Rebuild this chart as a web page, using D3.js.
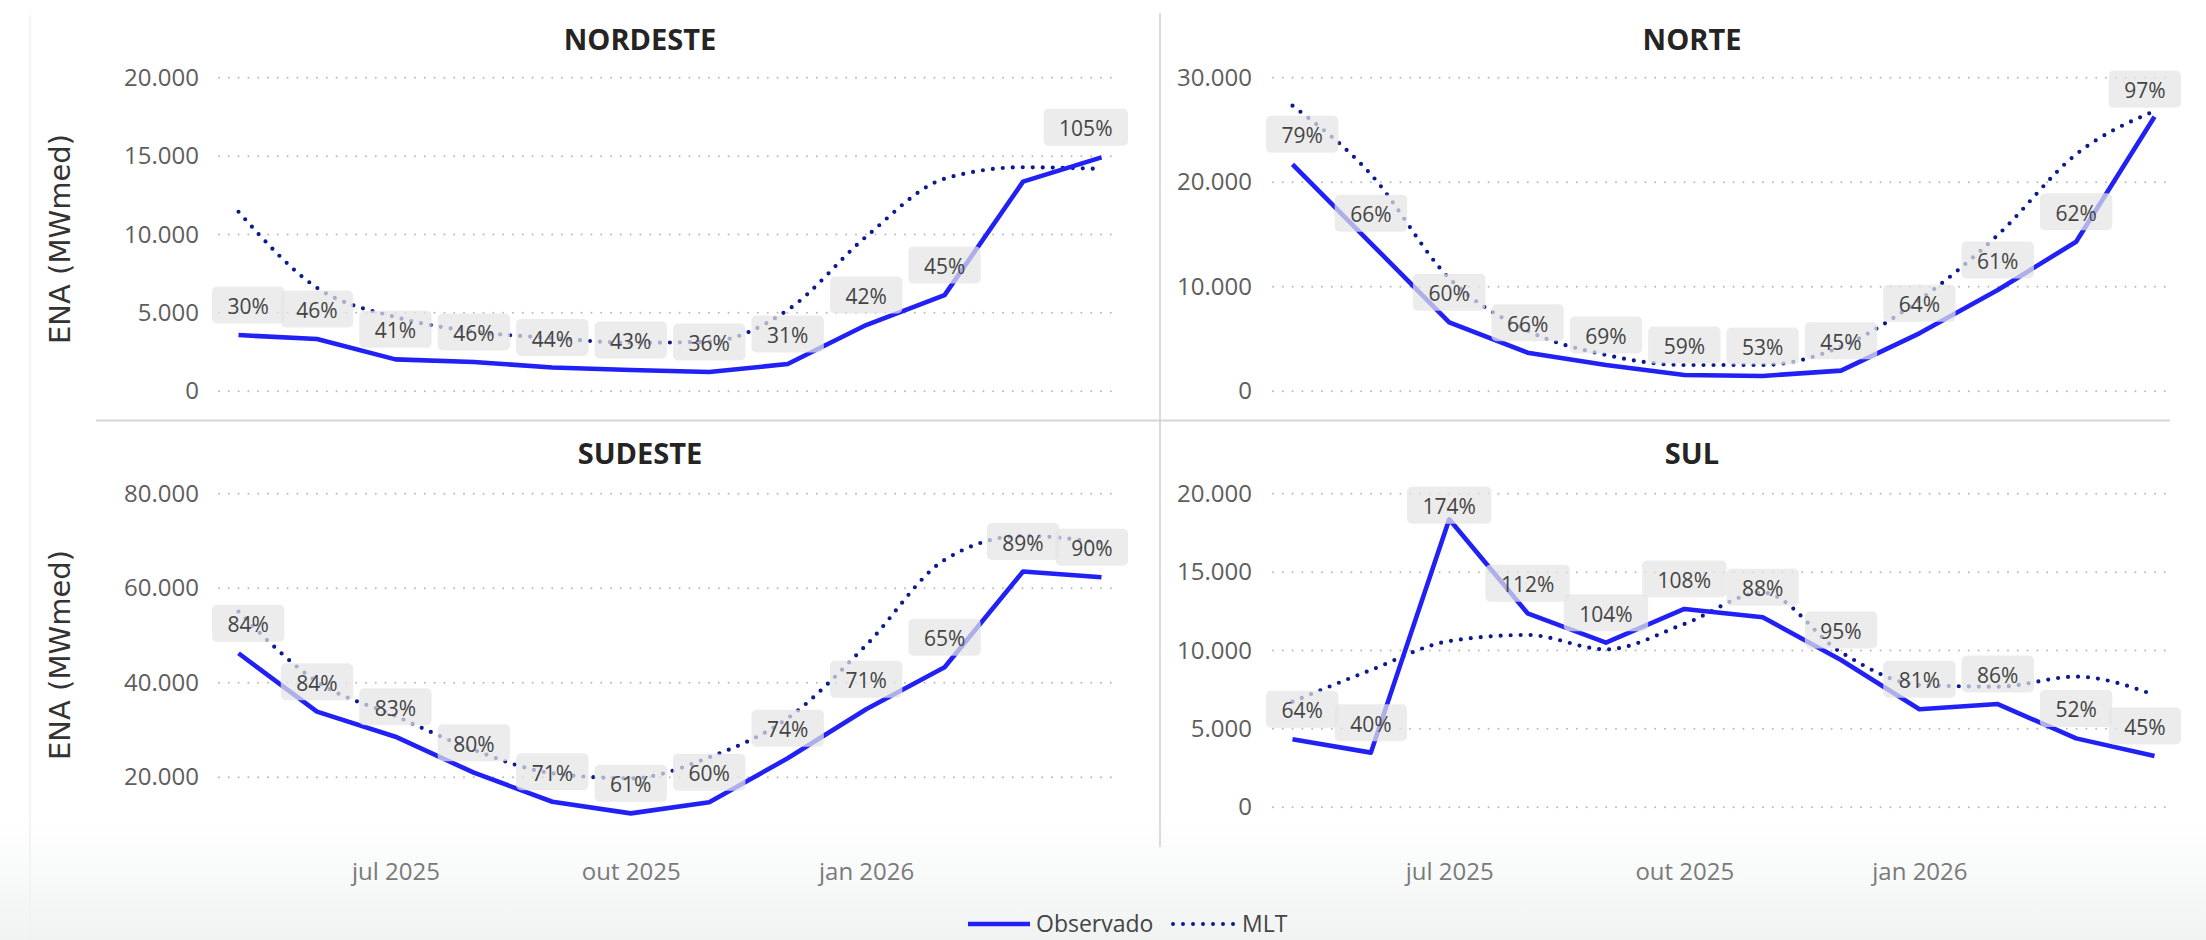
<!DOCTYPE html>
<html><head><meta charset="utf-8">
<script src="https://cdn.jsdelivr.net/npm/d3@7"></script>
<style>body{margin:0;background:#fff;} svg{display:block;}</style>
</head><body>
<svg id="c" width="2206" height="940"></svg>
<script>
// ---------- DATA ----------
const months = ["mai 2025","jun 2025","jul 2025","ago 2025","set 2025","out 2025","nov 2025","dez 2025","jan 2026","fev 2026","mar 2026","abr 2026"];
const xTickLabels = ["jul 2025","out 2025","jan 2026"];

const nordesteObs = [3550, 3300, 2000, 1830, 1480, 1320, 1190, 1700, 4190, 6100, 13340, 14890];
const nordesteMlt = [11420, 6570, 4700, 3770, 3360, 3060, 3130, 5150, 9830, 13530, 14260, 14150];
const nordestePct = [30, 46, 41, 46, 44, 43, 36, 31, 42, 45, null, 105];
const nordesteTicks = [0, 5000, 10000, 15000, 20000];

const norteObs = [21670, 14110, 6550, 3640, 2460, 1500, 1410, 1920, 5490, 9640, 14260, 26230];
const norteMlt = [27280, 20710, 10760, 5740, 3420, 2460, 2460, 4210, 8680, 14900, 22630, 26770];
const nortePct = [79, 66, 60, 66, 69, 59, 53, 45, 64, 61, 62, 97];
const norteTicks = [0, 10000, 20000, 30000];

const sudesteObs = [46140, 33770, 28470, 20850, 14700, 12240, 14580, 23900, 34280, 43180, 63430, 62240];
const sudesteMlt = [54960, 40130, 32860, 25660, 20720, 19660, 24110, 32370, 47840, 65910, 70990, 69570];
const sudestePct = [84, 84, 83, 80, 71, 61, 60, 74, 71, 65, 89, 90];
const sudesteTicks = [20000, 40000, 60000, 80000];

const sulObs = [4300, 3450, 18340, 12340, 10470, 12620, 12090, 9360, 6220, 6550, 4360, 3240];
const sulMlt = [6700, 8720, 10570, 10960, 10040, 11660, 13660, 9850, 7770, 7660, 8300, 7130];
const sulPct = [64, 40, 174, 112, 104, 108, 88, 95, 81, 86, 52, 45];
const sulTicks = [0, 5000, 10000, 15000, 20000];

const seriesNames = ["Observado", "MLT"];
const yTitle = "ENA (MWmed)";

// ---------- STYLE / LAYOUT ----------
const OBS_COLOR = "#2121f5";
const MLT_COLOR = "#0c1a8f";
const FONT = "'Segoe UI','Open Sans',sans-serif";

const cols = [
  {x0: 212, x1: 1128, gx0: 219, gx1: 1116, titleX: 640, tickX: 199},
  {x0: 1266, x1: 2181, gx0: 1273, gx1: 2169, titleX: 1692, tickX: 1252}
];
const rows = [
  {top: 77.3, bottom: 390.7, titleY: 38, showX: false},
  {top: 493.3, bottom: 806.7, titleY: 452, showX: true}
];

const panels = [
  {title: "NORDESTE", obs: nordesteObs, mlt: nordesteMlt, pct: nordestePct, ticks: nordesteTicks, domain: [0, 20000], col: 0, row: 0},
  {title: "NORTE", obs: norteObs, mlt: norteMlt, pct: nortePct, ticks: norteTicks, domain: [0, 30000], col: 1, row: 0},
  {title: "SUDESTE", obs: sudesteObs, mlt: sudesteMlt, pct: sudestePct, ticks: sudesteTicks, domain: [13650, 80000], col: 0, row: 1},
  {title: "SUL", obs: sulObs, mlt: sulMlt, pct: sulPct, ticks: sulTicks, domain: [0, 20000], col: 1, row: 1}
];

const locale = d3.formatLocale({decimal: ",", thousands: ".", grouping: [3], currency: ["R$", ""]});
const fmt = locale.format(",d");

const svg = d3.select("#c");

// background
const defs = svg.append("defs");
const grad = defs.append("linearGradient").attr("id", "bg").attr("x1", 0).attr("y1", 0).attr("x2", 0).attr("y2", 1);
grad.append("stop").attr("offset", "0").attr("stop-color", "#ffffff");
grad.append("stop").attr("offset", "1").attr("stop-color", "#f1f3f3");
svg.append("rect").attr("width", 2206).attr("height", 940).attr("fill", "#fff");
svg.append("rect").attr("x", 0).attr("y", 820).attr("width", 2206).attr("height", 120).attr("fill", "url(#bg)");
svg.append("line").attr("x1", 30).attr("x2", 30).attr("y1", 15).attr("y2", 940).attr("stroke", "#f0f0f0").attr("stroke-width", 1.5);

// dividers
svg.append("line").attr("x1", 96).attr("x2", 2170).attr("y1", 420.5).attr("y2", 420.5).attr("stroke", "#d6d6d6").attr("stroke-width", 2);
svg.append("line").attr("x1", 1160).attr("x2", 1160).attr("y1", 13).attr("y2", 847).attr("stroke", "#d0d0d0").attr("stroke-width", 1.5);

// y axis titles
rows.forEach(r => {
  svg.append("text")
    .attr("transform", `translate(60,${(r.top + r.bottom) / 2 + 5}) rotate(-90)`)
    .attr("text-anchor", "middle").attr("dominant-baseline", "central")
    .attr("font-family", "'DejaVu Sans',sans-serif").attr("font-size", 29)
    .attr("fill", "#333").text(yTitle);
});

panels.forEach(p => {
  const c = cols[p.col], r = rows[p.row];
  const g = svg.append("g");
  const x = d3.scalePoint().domain(months).range([c.x0 + 26.5, c.x1 - 26.5]);
  const y = d3.scaleLinear().domain(p.domain).range([r.bottom, r.top]);

  // title
  g.append("text").attr("x", c.titleX).attr("y", r.titleY)
    .attr("text-anchor", "middle").attr("dominant-baseline", "central")
    .attr("font-family", FONT).attr("font-weight", 700).attr("font-size", 29)
    .attr("fill", "#252423").text(p.title);

  // gridlines
  const grid = g.append("g").attr("transform", `translate(${c.gx0},0)`)
    .call(d3.axisLeft(y).tickValues(p.ticks).tickSize(-(c.gx1 - c.gx0)).tickFormat(""));
  grid.select(".domain").remove();
  grid.selectAll("line").attr("stroke", "#b9b9b9").attr("stroke-width", 2)
    .attr("stroke-dasharray", "0,9.8").attr("stroke-linecap", "round");

  // y tick labels
  const ya = g.append("g").attr("transform", `translate(${c.tickX},0)`)
    .call(d3.axisLeft(y).tickValues(p.ticks).tickSize(0).tickPadding(0).tickFormat(fmt));
  ya.select(".domain").remove();
  ya.selectAll("text").attr("font-family", FONT).attr("font-size", 24)
    .attr("fill", "#605e5c").attr("dy", "0.34em");

  // x axis labels
  if (r.showX) {
    const xa = g.append("g").attr("transform", `translate(0,872)`)
      .call(d3.axisBottom(x).tickValues(xTickLabels).tickSize(0).tickPadding(0));
    xa.select(".domain").remove();
    xa.selectAll("text").attr("font-family", FONT).attr("font-size", 24)
      .attr("fill", "#7a7a7a").attr("dy", "0.34em").attr("y", 0);
  }

  // lines
  const lineObs = d3.line().x((d, i) => x(months[i])).y(d => y(d));
  const lineMlt = d3.line().x((d, i) => x(months[i])).y(d => y(d)).curve(d3.curveMonotoneX);
  g.append("path").attr("d", lineMlt(p.mlt)).attr("fill", "none")
    .attr("stroke", MLT_COLOR).attr("stroke-width", 4.2)
    .attr("stroke-dasharray", "0,10").attr("stroke-linecap", "round");
  g.append("path").attr("d", lineObs(p.obs)).attr("fill", "none")
    .attr("stroke", OBS_COLOR).attr("stroke-width", 4.6)
    .attr("stroke-linejoin", "round").attr("stroke-linecap", "butt");

  // data labels
  p.pct.forEach((v, i) => {
    if (v == null) return;
    const cx = x(months[i]);
    const cy = y(p.obs[i]) - 30;
    const lg = g.append("g");
    const t = lg.append("text").attr("font-family", FONT).attr("font-size", 21)
      .attr("fill", "#444").attr("text-anchor", "middle").attr("dominant-baseline", "central")
      .text(v + "%");
    const w = t.node().getComputedTextLength();
    const bw = w + 31, bh = 37;
    let bx = Math.max(c.x0, Math.min(c.x1 - bw, cx - bw / 2));
    let by = Math.max(r.top - 6.6, cy - bh / 2);
    lg.insert("rect", "text").attr("x", bx).attr("y", by).attr("width", bw).attr("height", bh)
      .attr("rx", 5).attr("fill", "#e4e4e4").attr("fill-opacity", 0.72);
    t.attr("x", bx + bw / 2).attr("y", by + bh / 2 + 1);
  });
});

// legend
const leg = svg.append("g").attr("font-family", FONT).attr("font-size", 23).attr("fill", "#444");
leg.append("line").attr("x1", 968).attr("x2", 1030).attr("y1", 924).attr("y2", 924)
  .attr("stroke", OBS_COLOR).attr("stroke-width", 4.6);
leg.append("text").attr("x", 1036).attr("y", 932).text(seriesNames[0]);
leg.append("line").attr("x1", 1173).attr("x2", 1234).attr("y1", 924).attr("y2", 924)
  .attr("stroke", MLT_COLOR).attr("stroke-width", 4).attr("stroke-dasharray", "0,10").attr("stroke-linecap", "round");
leg.append("text").attr("x", 1242).attr("y", 932).text(seriesNames[1]);
</script>
</body></html>
